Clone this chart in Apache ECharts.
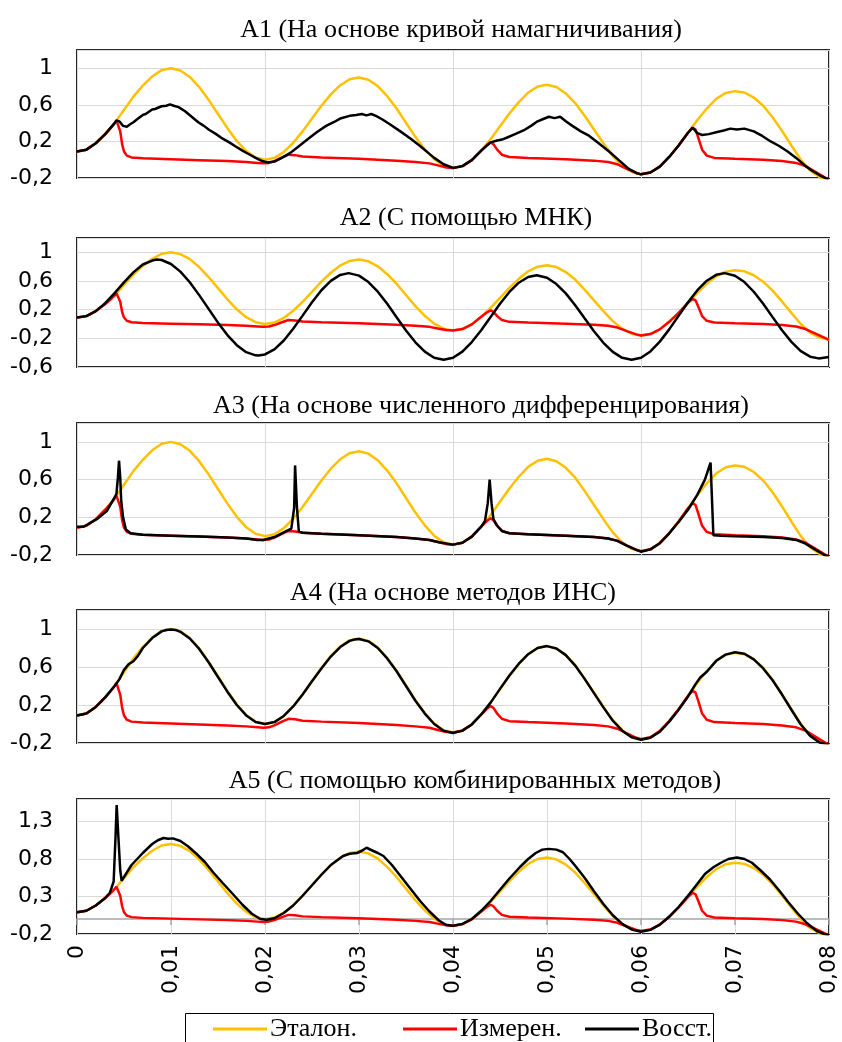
<!DOCTYPE html>
<html><head><meta charset="utf-8">
<script src="https://cdn.jsdelivr.net/npm/echarts@6/dist/echarts.min.js"></script>
<style>html,body{margin:0;padding:0;background:#fff}#c{width:842px;height:1042px}</style>
</head><body><div id="c"></div><script>
// ---------- data ----------
const xTickValues = [0, 0.01, 0.02, 0.03, 0.04, 0.05, 0.06, 0.07, 0.08];
const panelTitles = [
  'A1 (На основе кривой намагничивания)',
  'A2 (С помощью МНК)',
  'A3 (На основе численного дифференцирования)',
  'A4 (На основе методов ИНС)',
  'A5 (С помощью комбинированных методов)'
];
const seriesNames = ['Эталон.', 'Измерен.', 'Восст.'];
const yMins = [-0.2, -0.6, -0.2, -0.2, -0.2];
const yMaxs = [1.2, 1.2, 1.2, 1.2, 1.6];
const ySteps = [0.4, 0.4, 0.4, 0.4, 0.5];

const etalon = [
[0,0.09],[0.001,0.11],[0.002,0.18],[0.003,0.28],[0.004,0.40],[0.005,0.545],[0.006,0.69],[0.007,0.81],[0.008,0.91],[0.009,0.98],
[0.010,1.00],[0.011,0.975],[0.012,0.905],[0.013,0.795],[0.014,0.655],[0.015,0.50],[0.016,0.345],[0.017,0.205],[0.018,0.095],[0.019,0.025],
[0.020,0.00],[0.021,0.02],[0.022,0.085],[0.023,0.185],[0.024,0.31],[0.025,0.45],[0.026,0.59],[0.027,0.715],[0.028,0.815],[0.029,0.88],
[0.030,0.90],[0.031,0.875],[0.032,0.805],[0.033,0.695],[0.034,0.56],[0.035,0.405],[0.036,0.25],[0.037,0.115],[0.038,0.005],[0.039,-0.065],
[0.040,-0.09],[0.041,-0.07],[0.042,-0.005],[0.043,0.10],[0.044,0.225],[0.045,0.365],[0.046,0.505],[0.047,0.63],[0.048,0.735],[0.049,0.80],
[0.050,0.82],[0.051,0.795],[0.052,0.725],[0.053,0.62],[0.054,0.48],[0.055,0.33],[0.056,0.18],[0.057,0.04],[0.058,-0.065],[0.059,-0.135],
[0.060,-0.16],[0.061,-0.14],[0.062,-0.075],[0.063,0.03],[0.064,0.155],[0.065,0.295],[0.066,0.435],[0.067,0.56],[0.068,0.665],[0.069,0.73],
[0.070,0.75],[0.071,0.735],[0.072,0.68],[0.073,0.59],[0.074,0.465],[0.075,0.315],[0.076,0.155],[0.077,0.0],[0.078,-0.12],[0.079,-0.19],[0.080,-0.22]
];

const izmeren = [
[0,0.09],[0.001,0.11],[0.002,0.18],[0.003,0.28],[0.0037,0.36],[0.004,0.40],[0.0042,0.43],[0.0044,0.41],[0.0046,0.31],[0.0048,0.17],
[0.005,0.09],[0.0053,0.045],[0.0058,0.025],[0.007,0.015],[0.010,0.005],[0.013,-0.005],[0.016,-0.015],[0.018,-0.025],[0.0192,-0.035],[0.0198,-0.04],
[0.0204,-0.035],[0.021,-0.015],[0.0218,0.025],[0.0225,0.055],[0.0232,0.05],[0.024,0.035],[0.026,0.025],[0.030,0.01],[0.034,-0.01],[0.036,-0.025],
[0.0375,-0.04],[0.0385,-0.065],[0.0393,-0.085],[0.040,-0.09],[0.041,-0.07],[0.042,-0.005],[0.043,0.10],[0.0436,0.16],[0.044,0.19],[0.0443,0.17],
[0.0447,0.11],[0.0452,0.055],[0.046,0.03],[0.048,0.02],[0.052,0.005],[0.055,-0.01],[0.0565,-0.025],[0.0575,-0.05],[0.0585,-0.1],[0.0595,-0.145],
[0.060,-0.16],[0.061,-0.14],[0.062,-0.075],[0.063,0.03],[0.064,0.155],[0.065,0.295],[0.0655,0.35],[0.0658,0.33],[0.0661,0.24],[0.0665,0.11],
[0.067,0.045],[0.0678,0.02],[0.070,0.01],[0.073,0.0],[0.075,-0.015],[0.0765,-0.035],[0.0775,-0.07],[0.0785,-0.13],[0.0795,-0.19],[0.080,-0.22]
];

const vosstA1 = [
[0,0.09],[0.001,0.11],[0.002,0.18],[0.003,0.28],[0.004,0.40],[0.0042,0.43],[0.0045,0.42],[0.0049,0.37],[0.0053,0.36],[0.0057,0.39],
[0.006,0.41],[0.0065,0.45],[0.007,0.49],[0.0073,0.50],[0.0075,0.52],[0.008,0.55],[0.0083,0.555],[0.0085,0.57],[0.009,0.585],[0.0095,0.59],[0.0099,0.605],[0.0103,0.59],
[0.0108,0.575],[0.0115,0.53],[0.0122,0.47],[0.0129,0.41],[0.0135,0.37],[0.014,0.33],[0.0148,0.28],[0.0155,0.23],[0.0162,0.19],[0.0168,0.15],
[0.0176,0.10],[0.0183,0.06],[0.019,0.02],[0.0197,-0.015],[0.0203,-0.03],[0.021,-0.02],[0.0218,0.02],[0.0227,0.075],[0.0235,0.14],[0.0245,0.22],
[0.0255,0.30],[0.0265,0.37],[0.0273,0.41],[0.028,0.45],[0.029,0.48],[0.0297,0.49],[0.0303,0.50],[0.0308,0.485],[0.0313,0.50],[0.0318,0.48],
[0.0325,0.44],[0.0334,0.38],[0.0344,0.31],[0.0355,0.23],[0.0365,0.15],[0.0373,0.08],[0.038,0.02],[0.039,-0.05],[0.040,-0.09],[0.041,-0.07],
[0.042,-0.005],[0.043,0.10],[0.044,0.19],[0.0447,0.21],[0.0452,0.22],[0.0457,0.24],[0.0466,0.28],[0.0475,0.32],[0.0483,0.37],[0.049,0.42],
[0.0496,0.445],[0.0502,0.47],[0.0508,0.455],[0.0514,0.47],[0.052,0.42],[0.0527,0.37],[0.0536,0.31],[0.0545,0.26],[0.0555,0.18],[0.0566,0.09],
[0.0577,-0.01],[0.0587,-0.10],[0.0595,-0.145],[0.060,-0.16],[0.061,-0.14],[0.062,-0.075],[0.063,0.03],[0.064,0.155],[0.065,0.295],[0.0655,0.35],
[0.066,0.29],[0.0665,0.27],[0.0672,0.28],[0.068,0.30],[0.0688,0.32],[0.0695,0.34],[0.0702,0.33],[0.071,0.34],[0.072,0.31],[0.0729,0.26],
[0.0738,0.20],[0.0747,0.15],[0.0756,0.09],[0.0765,0.02],[0.0774,-0.06],[0.0782,-0.12],[0.079,-0.17],[0.080,-0.22]
];

const vosstA2 = [
[0,0.09],[0.001,0.11],[0.002,0.18],[0.003,0.29],[0.004,0.43],[0.005,0.58],[0.006,0.72],[0.007,0.83],[0.008,0.885],[0.0085,0.90],
[0.009,0.893],[0.010,0.837],[0.011,0.731],[0.012,0.582],[0.013,0.403],[0.014,0.211],[0.015,0.019],[0.016,-0.155],[0.017,-0.296],[0.018,-0.393],
[0.019,-0.437],[0.0193,-0.44],[0.020,-0.425],[0.021,-0.353],[0.022,-0.23],[0.023,-0.067],[0.024,0.117],[0.025,0.303],[0.026,0.471],[0.027,0.602],
[0.028,0.685],[0.0289,0.71],[0.030,0.675],[0.031,0.585],[0.032,0.451],[0.033,0.282],[0.034,0.095],[0.035,-0.09],[0.036,-0.256],[0.037,-0.386],
[0.038,-0.471],[0.039,-0.50],[0.040,-0.47],[0.041,-0.385],[0.042,-0.252],[0.043,-0.086],[0.044,0.099],[0.045,0.283],[0.046,0.447],[0.047,0.576],
[0.048,0.656],[0.0489,0.68],[0.050,0.646],[0.051,0.558],[0.052,0.427],[0.053,0.262],[0.054,0.08],[0.055,-0.10],[0.056,-0.262],[0.057,-0.389],
[0.058,-0.472],[0.059,-0.50],[0.060,-0.47],[0.061,-0.383],[0.062,-0.246],[0.063,-0.075],[0.064,0.115],[0.065,0.303],[0.066,0.472],[0.067,0.604],
[0.068,0.686],[0.0689,0.71],[0.070,0.674],[0.071,0.585],[0.072,0.45],[0.073,0.282],[0.074,0.096],[0.075,-0.087],[0.076,-0.249],[0.077,-0.378],
[0.078,-0.456],[0.0789,-0.48],[0.080,-0.46]
];

const vosstA3 = [
[0,0.10],[0.0007,0.10],[0.0021,0.18],[0.0032,0.27],[0.004,0.41],[0.0042,0.45],[0.00435,0.62],[0.00447,0.80],[0.0046,0.62],[0.0047,0.38],
[0.0049,0.20],[0.0052,0.07],[0.0057,0.03],[0.007,0.015],[0.010,0.005],[0.013,-0.005],[0.016,-0.015],[0.018,-0.025],[0.0192,-0.04],[0.0198,-0.04],
[0.021,-0.01],[0.0222,0.05],[0.0228,0.08],[0.0231,0.30],[0.0232,0.75],[0.0234,0.30],[0.0236,0.05],[0.024,0.035],[0.026,0.025],[0.030,0.01],
[0.034,-0.01],[0.036,-0.025],[0.0375,-0.04],[0.0385,-0.065],[0.040,-0.09],[0.041,-0.07],[0.042,-0.005],[0.043,0.10],[0.0434,0.16],[0.0437,0.35],
[0.0439,0.60],[0.0441,0.35],[0.0443,0.18],[0.0447,0.11],[0.0452,0.055],[0.046,0.03],[0.048,0.02],[0.052,0.005],[0.055,-0.01],[0.0565,-0.025],
[0.0575,-0.05],[0.0585,-0.10],[0.0595,-0.145],[0.060,-0.165],[0.061,-0.14],[0.062,-0.075],[0.063,0.03],[0.064,0.15],[0.065,0.28],[0.066,0.44],
[0.0668,0.60],[0.0672,0.72],[0.0674,0.78],[0.0676,0.76],[0.0677,0.01],[0.0685,0.005],[0.070,0.0],[0.073,-0.01],[0.075,-0.02],[0.0765,-0.04],
[0.0775,-0.08],[0.0785,-0.14],[0.0795,-0.20],[0.080,-0.22]
];

const vosstA4 = [
[0,0.09],[0.001,0.11],[0.002,0.18],[0.003,0.28],[0.004,0.40],[0.0045,0.47],[0.005,0.57],[0.0055,0.63],[0.006,0.66],[0.0065,0.72],
[0.007,0.80],[0.008,0.905],[0.009,0.975],[0.0095,0.99],[0.010,0.995],[0.0105,0.99],[0.011,0.97],[0.012,0.90],[0.013,0.79],[0.014,0.65],
[0.015,0.495],[0.016,0.34],[0.017,0.20],[0.018,0.09],[0.019,0.02],[0.020,0.0],[0.021,0.02],[0.022,0.085],[0.023,0.185],[0.024,0.31],
[0.025,0.45],[0.026,0.585],[0.027,0.71],[0.028,0.81],[0.029,0.875],[0.0295,0.89],[0.030,0.895],[0.031,0.87],[0.032,0.80],[0.033,0.69],
[0.034,0.555],[0.035,0.40],[0.036,0.245],[0.037,0.11],[0.038,0.0],[0.039,-0.07],[0.040,-0.095],[0.041,-0.07],[0.042,-0.005],[0.043,0.10],
[0.044,0.225],[0.045,0.37],[0.046,0.51],[0.047,0.635],[0.048,0.735],[0.049,0.80],[0.050,0.82],[0.051,0.795],[0.052,0.725],[0.053,0.615],
[0.054,0.475],[0.055,0.325],[0.056,0.175],[0.057,0.035],[0.058,-0.07],[0.059,-0.14],[0.060,-0.165],[0.061,-0.145],[0.062,-0.08],[0.063,0.025],
[0.064,0.15],[0.065,0.29],[0.0658,0.42],[0.0663,0.49],[0.067,0.55],[0.068,0.665],[0.069,0.73],[0.070,0.755],[0.071,0.74],[0.072,0.68],
[0.073,0.585],[0.074,0.46],[0.075,0.31],[0.076,0.15],[0.077,-0.005],[0.078,-0.125],[0.079,-0.195],[0.080,-0.22]
];

const vosstA5 = [
[0,0.09],[0.001,0.11],[0.002,0.18],[0.003,0.28],[0.0035,0.35],[0.0039,0.50],[0.0041,1.10],[0.00422,1.52],[0.0044,1.10],[0.0046,0.65],
[0.00475,0.51],[0.0052,0.60],[0.0058,0.72],[0.0064,0.80],[0.007,0.88],[0.0075,0.94],[0.008,1.00],[0.0086,1.05],[0.0092,1.08],[0.0097,1.07],
[0.0102,1.075],[0.011,1.04],[0.0118,0.97],[0.0127,0.87],[0.0136,0.76],[0.0145,0.62],[0.0155,0.48],[0.0166,0.33],[0.0176,0.19],[0.0186,0.07],
[0.0195,0.0],[0.0202,-0.01],[0.021,0.01],[0.022,0.08],[0.023,0.18],[0.024,0.31],[0.025,0.45],[0.026,0.59],[0.027,0.72],[0.0283,0.84],
[0.029,0.87],[0.0298,0.88],[0.0303,0.91],[0.0308,0.95],[0.0313,0.92],[0.032,0.88],[0.0326,0.84],[0.0335,0.72],[0.0345,0.56],[0.0355,0.40],
[0.0365,0.24],[0.0375,0.10],[0.0385,-0.02],[0.0393,-0.08],[0.040,-0.09],[0.041,-0.065],[0.042,0.0],[0.043,0.11],[0.044,0.24],[0.045,0.39],
[0.046,0.54],[0.0471,0.69],[0.048,0.80],[0.0488,0.88],[0.0495,0.925],[0.0502,0.935],[0.051,0.925],[0.0517,0.89],[0.0524,0.80],[0.053,0.71],
[0.054,0.55],[0.055,0.37],[0.056,0.20],[0.057,0.05],[0.058,-0.065],[0.059,-0.14],[0.060,-0.17],[0.061,-0.145],[0.062,-0.075],[0.063,0.03],
[0.064,0.16],[0.065,0.31],[0.066,0.47],[0.0668,0.60],[0.0677,0.69],[0.0685,0.75],[0.0693,0.80],[0.0702,0.82],[0.071,0.80],[0.0718,0.75],
[0.0727,0.65],[0.0737,0.53],[0.0747,0.38],[0.0757,0.22],[0.0767,0.07],[0.0777,-0.06],[0.0787,-0.16],[0.0795,-0.20],[0.080,-0.22]
];

const vosstAll = [vosstA1, vosstA2, vosstA3, vosstA4, vosstA5];

// ---------- layout / style ----------
const colors = ['#FFC000', '#FF0000', '#000000'];
const plotLeft = 77, plotWidth = 752;
const gridTops = [50, 238, 423, 610, 799];
const gridHeights = [128, 129, 132, 133, 135];
const titleCenters = [[461, 30], [466, 218], [481, 406], [453, 593], [475, 781]];
const legendLefts = [213, 403, 585];
const labelFont = 'DejaVu Sans';
const serifFont = 'Liberation Serif';

function fmtY(v) { return String(Math.round(v * 10) / 10).replace('.', ','); }
function fmtX(v) { const r = Math.round(v * 100) / 100; return r === 0 ? '0' : r.toFixed(2).replace('.', ','); }

const grids = [], xAxes = [], yAxes = [], series = [], graphics = [];
for (let i = 0; i < 5; i++) {
  grids.push({ left: plotLeft, width: plotWidth, top: gridTops[i], height: gridHeights[i],
    show: true, borderColor: '#262626', borderWidth: 2, backgroundColor: 'transparent', containLabel: false });
  const last = i === 4;
  xAxes.push({
    type: 'value', gridIndex: i, min: 0, max: 0.08, interval: last ? 0.01 : 0.02, position: 'bottom',
    axisLine: { show: false, onZero: false }, axisTick: { show: false },
    splitLine: { show: true, lineStyle: { color: '#D9D9D9', width: 1 } },
    axisLabel: { show: last, rotate: 90, margin: 11, formatter: fmtX, fontFamily: labelFont, fontSize: 22, color: '#000' }
  });
  yAxes.push({
    type: 'value', gridIndex: i, min: yMins[i], max: yMaxs[i], interval: ySteps[i],
    axisLine: { show: false }, axisTick: { show: false },
    splitLine: { show: true, lineStyle: { color: '#D9D9D9', width: 1 } },
    axisLabel: { showMaxLabel: false, formatter: fmtY, fontFamily: labelFont, fontSize: 22, color: '#000', margin: 24 }
  });
  const dataSets = [etalon, izmeren, vosstAll[i]];
  for (let k = 0; k < 3; k++) {
    series.push({
      name: seriesNames[k], type: 'line', xAxisIndex: i, yAxisIndex: i,
      data: dataSets[k], symbol: 'none', showSymbol: false, smooth: false, clip: true,
      lineStyle: { color: colors[k], width: 2.5 }, itemStyle: { color: colors[k] },
      emphasis: { disabled: true }, animation: false
    });
  }
  graphics.push({ type: 'text', x: titleCenters[i][0], y: titleCenters[i][1],
    style: { text: panelTitles[i], font: '26px "' + serifFont + '"', fill: '#000', align: 'center', verticalAlign: 'middle' } });
}
// zero line with ticks in the last panel
xAxes.push({
  type: 'value', gridIndex: 4, min: 0, max: 0.08, interval: 0.01, position: 'bottom',
  axisLine: { show: true, onZero: true, lineStyle: { color: '#A6A6A6', width: 1.5 } },
  axisTick: { show: true, length: 6, lineStyle: { color: '#A6A6A6', width: 1.5 } },
  axisLabel: { show: false }, splitLine: { show: false }
});
// legend frame
graphics.push({ type: 'rect', shape: { x: 185.5, y: 1013.5, width: 528, height: 40 },
  style: { fill: 'none', stroke: '#000', lineWidth: 1 }, z: 10 });

const legends = seriesNames.map((n, k) => ({
  data: [{ name: n, icon: 'rect' }],
  left: legendLefts[k], top: 1016, orient: 'horizontal',
  itemWidth: 54, itemHeight: 3, padding: 0, borderWidth: 0,
  textStyle: { fontFamily: serifFont, fontSize: 26, color: '#000', padding: [0, 0, 0, -2] },
  selectedMode: false
}));

const chart = echarts.init(document.getElementById('c'), null, { renderer: 'canvas' });
chart.setOption({
  animation: false,
  backgroundColor: '#fff',
  grid: grids, xAxis: xAxes, yAxis: yAxes, series: series,
  graphic: graphics,
  legend: legends
});
</script></body></html>
